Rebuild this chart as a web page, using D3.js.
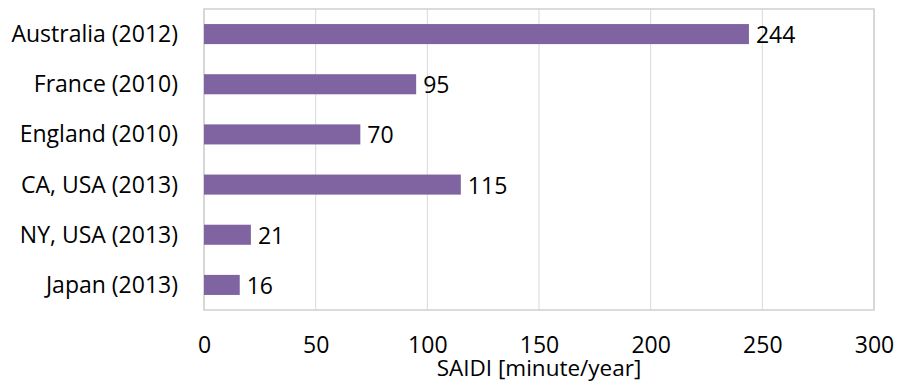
<!DOCTYPE html>
<html>
<head>
<meta charset="utf-8">
<script src="https://cdn.jsdelivr.net/npm/d3@7"></script>
<style>
  body { margin: 0; background: #fff; }
  text { font-family: "Open Sans", "DejaVu Sans", sans-serif; fill: #000; }
</style>
</head>
<body>
<svg id="chart" width="898" height="383"></svg>
<script>
// Data
const countries = ['Australia (2012)', 'France (2010)', 'England (2010)', 'CA, USA (2013)', 'NY, USA (2013)', 'Japan (2013)'];
const saidi = [244, 95, 70, 115, 21, 16];
const xTicks = [0, 50, 100, 150, 200, 250, 300];

const fontSize = 23;
const margin = {top: 9, right: 24, bottom: 73, left: 204};
const width = 898 - margin.left - margin.right;
const height = 383 - margin.top - margin.bottom;

const svg = d3.select('#chart');
const g = svg.append('g')
  .attr('transform', `translate(${margin.left},${margin.top})`);

const x = d3.scaleLinear().domain([0, 300]).range([0, width]);
const y = d3.scaleBand().domain(countries).range([0, height]).paddingInner(0.6).paddingOuter(0.3);

// Gridlines
g.selectAll('.grid')
  .data(xTicks)
  .enter().append('line')
  .attr('x1', (d) => x(d)).attr('x2', (d) => x(d))
  .attr('y1', 0).attr('y2', height)
  .attr('stroke', '#d9d9d9').attr('stroke-width', 1);

// Plot border
g.append('rect')
  .attr('x', 0).attr('y', 0)
  .attr('width', width).attr('height', height)
  .attr('fill', 'none').attr('stroke', '#d0d0d0').attr('stroke-width', 1.5);

// Bars
const rows = countries.map((c, i) => ({name: c, value: saidi[i]}));
g.selectAll('.bar')
  .data(rows)
  .enter().append('rect')
  .attr('class', 'bar')
  .attr('x', 0)
  .attr('y', (d) => y(d.name))
  .attr('width', (d) => x(d.value))
  .attr('height', y.bandwidth())
  .attr('fill', '#8064a2');

// Value labels
g.selectAll('.val')
  .data(rows)
  .enter().append('text')
  .attr('x', (d) => x(d.value) + 7)
  .attr('y', (d) => y(d.name) + y.bandwidth() / 2 + 9)
  .attr('font-size', fontSize)
  .text((d) => d.value);

// Category labels
g.selectAll('.cat')
  .data(countries)
  .enter().append('text')
  .attr('x', -26)
  .attr('y', (d) => y(d) + y.bandwidth() / 2 + 8)
  .attr('text-anchor', 'end')
  .attr('font-size', fontSize)
  .text((d) => d);

// X axis tick labels
const xAxis = d3.axisBottom(x).tickValues(xTicks).tickSize(0).tickPadding(0);
const ax = g.append('g')
  .attr('transform', `translate(0,${height})`)
  .call(xAxis);
ax.select('.domain').remove();
ax.selectAll('text')
  .attr('dy', null)
  .attr('y', 43)
  .style('font-family', '"Open Sans", "DejaVu Sans", sans-serif')
  .attr('font-size', fontSize)
  .attr('fill', '#000');

// Axis title
g.append('text')
  .attr('x', width / 2)
  .attr('y', height + 66)
  .attr('text-anchor', 'middle')
  .attr('font-size', 22.5)
  .text('SAIDI [minute/year]');
</script>
</body>
</html>
